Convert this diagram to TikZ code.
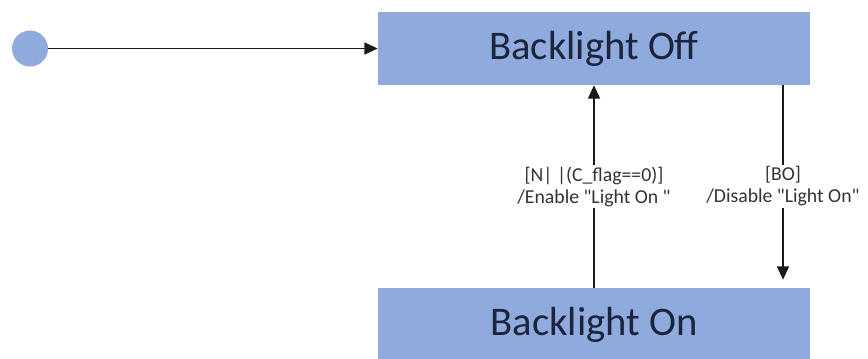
\documentclass[tikz,border=0pt]{standalone}
\usepackage{fontspec}
\setmainfont{Carlito}
\usetikzlibrary{arrows.meta,calc,positioning}
\definecolor{stateblue}{RGB}{143,170,220}
\definecolor{statetext}{RGB}{28,36,62}
\tikzset{
  state/.style={rectangle, fill=stateblue, minimum width=432*0.75pt, minimum height=73*0.75pt,
    inner sep=0pt, text=statetext, font=\fontsize{30.5}{32}\selectfont},
  initial/.style={circle, fill=stateblue, minimum size=36*0.75pt, inner sep=0pt},
  trans/.style={line width=1.1pt, draw=black!90, -{Triangle[length=10pt,width=9pt]}},
  guard/.style={fill=white, align=center, inner sep=1pt, font=\fontsize{14.8}{16.5}\selectfont, text=black!80}
}
\newcommand{\dq}{\textquotedbl}
\begin{document}
\begin{tikzpicture}[x=0.75pt,y=-0.75pt]
\useasboundingbox (0,0) rectangle (868,358);

\node[initial] (init) at (30,48.5) {};
\node[state] (off) at (594,48.5) {Backlight Off};
\node[state] (on) at (594,324.5) {Backlight On};

\coordinate (xr) at (783,0);

\draw[trans] (init) -- (off);

\draw[trans] (on) -- node[guard] {[N| |(C\_flag==0)]\\/Enable \dq Light On \dq} (off);

\draw[trans, shorten >=6pt] (off.south -| xr) -- node[guard] {[BO]\\/Disable \dq Light On\dq} (on.north -| xr);
\end{tikzpicture}
\end{document}
